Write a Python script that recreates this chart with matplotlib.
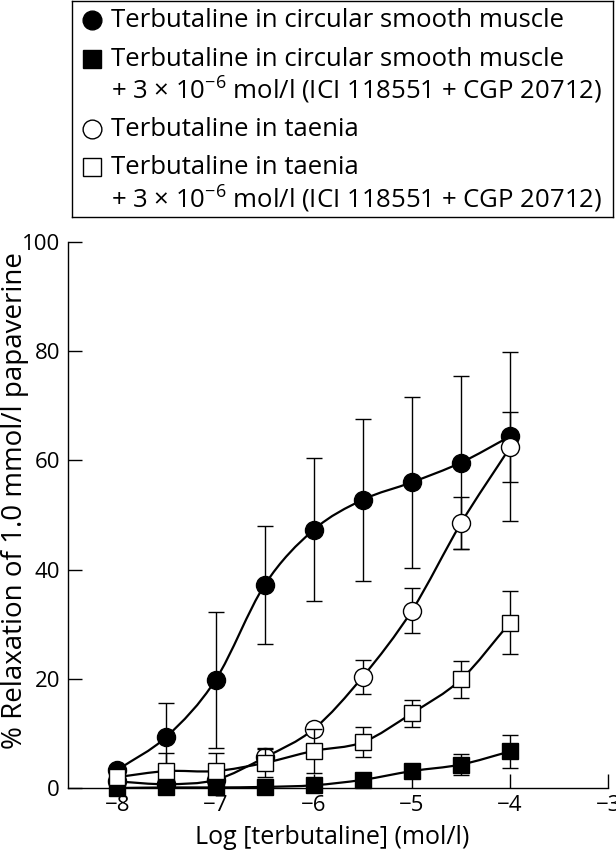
import numpy as np
import matplotlib
matplotlib.use("Agg")
from matplotlib import pyplot as plt
from matplotlib.path import Path
from matplotlib.patches import PathPatch

plt.rcParams['font.family'] = ['Open Sans', 'DejaVu Sans']
plt.rcParams['mathtext.fontset'] = 'custom'
plt.rcParams['mathtext.rm'] = 'Open Sans'
plt.rcParams['mathtext.it'] = 'Open Sans:italic'

# log [terbutaline] (mol/l)
log_conc = [-8, -7.5, -7, -6.5, -6, -5.5, -5, -4.5, -4]

# circular smooth muscle
circ_mean = [3.3, 9.4, 19.8, 37.2, 47.3, 52.8, 56.0, 59.6, 64.4]
circ_err = [0.5, 6.1, 12.4, 10.8, 13.1, 14.8, 15.7, 15.9, 15.5]
# circular smooth muscle + antagonists
circ_ant_mean = [0.0, 0.1, 0.1, 0.2, 0.5, 1.5, 3.1, 4.3, 6.7]
circ_ant_err = [0.0, 0.0, 0.0, 0.3, 0.5, 0.8, 1.0, 2.0, 3.0]
# taenia
taen_mean = [1.2, 0.7, 1.5, 5.6, 10.8, 20.4, 32.5, 48.5, 62.4]
taen_err = [0.5, 0.5, 0.8, 1.7, 0.8, 3.1, 4.1, 4.8, 6.4]
# taenia + antagonists
taen_ant_mean = [2.0, 3.1, 3.1, 4.6, 6.8, 8.4, 13.7, 19.9, 30.3]
taen_ant_err = [0.8, 3.3, 3.4, 2.5, 4.0, 2.8, 2.45, 3.4, 5.8]

legend_labels = [
    "Terbutaline in circular smooth muscle",
    "Terbutaline in circular smooth muscle",
    "Terbutaline in taenia",
    "Terbutaline in taenia",
]
legend_extra = "+ 3 \u00d7 10$^{\\mathregular{-6}}$ mol/l (ICI 118551 + CGP 20712)"


# smooth line through the points (catmull-rom as cubic bezier)
def smooth_path(x, y):
    x = np.asarray(x, float)
    y = np.asarray(y, float)
    px = np.concatenate([[2*x[0]-x[1]], x, [2*x[-1]-x[-2]]])
    py = np.concatenate([[2*y[0]-y[1]], y, [2*y[-1]-y[-2]]])
    verts = [(x[0], y[0])]
    codes = [Path.MOVETO]
    for i in range(1, len(px)-2):
        c1 = (px[i] + (px[i+1]-px[i-1])/6, py[i] + (py[i+1]-py[i-1])/6)
        c2 = (px[i+1] - (px[i+2]-px[i])/6, py[i+1] - (py[i+2]-py[i])/6)
        verts += [c1, c2, (px[i+1], py[i+1])]
        codes += [Path.CURVE4]*3
    return Path(verts, codes)


W, H = 616, 852
fig = plt.figure(figsize=(W/100, H/100), dpi=100)
ax = fig.add_axes([68.3/W, 1-788/H, (608.3-68.3)/W, (788-242)/H])

series = [
    (circ_mean, circ_err, 'o', 'black', 13, 2),
    (taen_mean, taen_err, 'o', 'white', 13, 4),
    (circ_ant_mean, circ_ant_err, 's', 'black', 12, 6),
    (taen_ant_mean, taen_ant_err, 's', 'white', 12, 8),
]
for mean, err, mk, fc, ms, z in series:
    ax.errorbar(log_conc, mean, yerr=err, fmt='none', ecolor='black',
                elinewidth=1.0, capsize=6, capthick=1.0, zorder=z)
    ax.add_patch(PathPatch(smooth_path(log_conc, mean), facecolor='none',
                           edgecolor='black', lw=1.6, zorder=z))
    ax.plot(log_conc, mean, linestyle='none', marker=mk, ms=ms, mfc=fc,
            mec='black', mew=1.0, zorder=z+1, clip_on=False)

ax.set_xlim(-8.5, -3)
ax.set_ylim(0, 100)
ax.set_xticks([-8, -7, -6, -5, -4, -3])
ax.set_xticklabels(["\u22128", "\u22127", "\u22126", "\u22125", "\u22124", "\u22123"])
ax.set_yticks([0, 20, 40, 60, 80, 100])
ax.spines['top'].set_visible(False)
ax.spines['right'].set_visible(False)
for s in ['left', 'bottom']:
    ax.spines[s].set_linewidth(1.0)
ax.tick_params(direction='in', length=10, width=1.0, labelsize=16)
ax.tick_params(axis='x', pad=5)
ax.tick_params(axis='y', pad=6)

fig.text(332/W, 1-838/H, "Log [terbutaline] (mol/l)", fontsize=18,
         ha='center', va='center')
fig.text(15/W, 1-501/H, "% Relaxation of 1.0 mmol/l papaverine", fontsize=20,
         rotation=90, ha='center', va='center')

# legend box, drawn in pixel units
lg = fig.add_axes([72/W, 1-217/H, (613-72)/W, 216/H])
lg.set_xlim(72, 613)
lg.set_ylim(217, 1)
lg.set_xticks([])
lg.set_yticks([])
for s in lg.spines.values():
    s.set_linewidth(1.0)
marker_rows = [20, 59, 129, 167]
marks = [('o', 'black', 13.5), ('s', 'black', 13), ('o', 'white', 13.5), ('s', 'white', 13)]
for yrow, (mk, fc, ms), lab in zip(marker_rows, marks, legend_labels):
    lg.plot([92], [yrow], marker=mk, ms=ms, mfc=fc, mec='black', mew=1.0)
    lg.text(111, yrow, lab, fontsize=18.5, va='center', ha='left')
for yrow in [90, 199]:
    lg.text(111, yrow, legend_extra, fontsize=18.5, va='center', ha='left')

fig.savefig("out.png", dpi=100)
